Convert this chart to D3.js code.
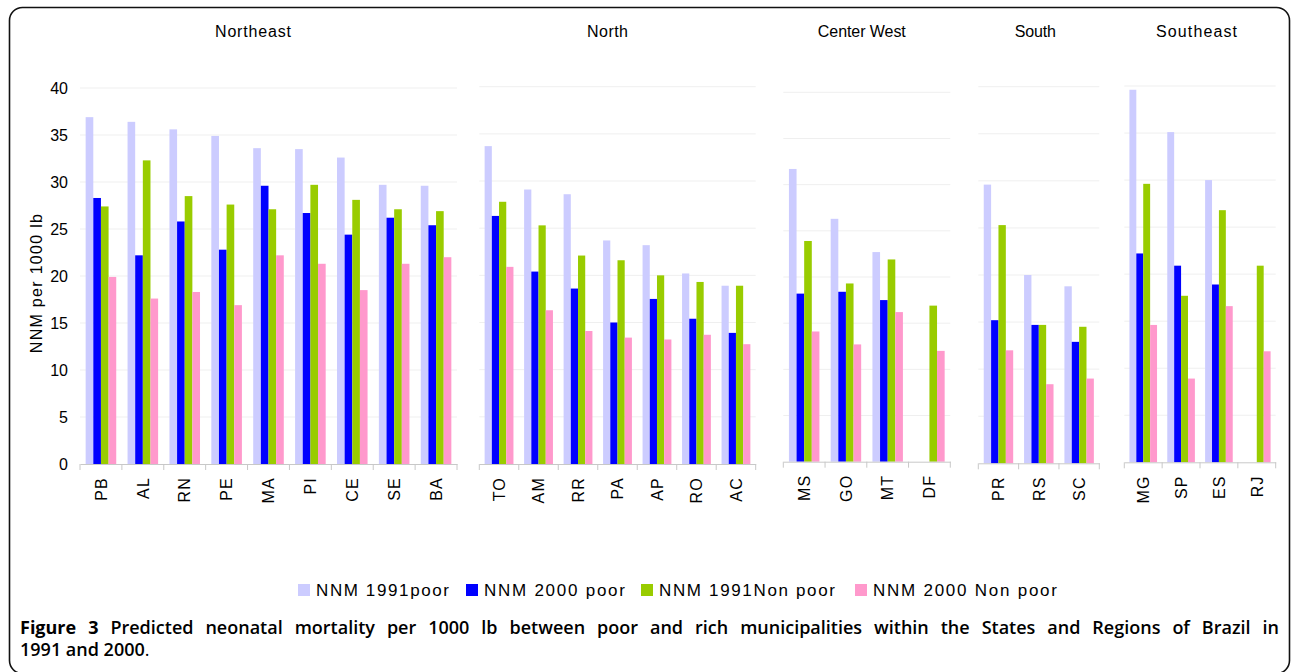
<!DOCTYPE html>
<html>
<head>
<meta charset="utf-8">
<script src="https://cdn.jsdelivr.net/npm/d3@7"></script>
<style>
  html, body { margin: 0; padding: 0; background: #fff; }
  svg { display: block; }
</style>
</head>
<body>
<svg id="chart" width="1292" height="672"></svg>
<script>
// ---------------- DATA ----------------
const regions = ["Northeast", "North", "Center West", "South", "Southeast"];
const northeastStates = ["PB", "AL", "RN", "PE", "MA", "PI", "CE", "SE", "BA"];
const northStates = ["TO", "AM", "RR", "PA", "AP", "RO", "AC"];
const centerWestStates = ["MS", "GO", "MT", "DF"];
const southStates = ["PR", "RS", "SC"];
const southeastStates = ["MG", "SP", "ES", "RJ"];
const seriesNames = ["NNM 1991poor", "NNM 2000 poor", "NNM 1991Non poor", "NNM 2000 Non poor"];

// values in order: Northeast, North, Center West, South, Southeast states
const poor1991 = [36.9, 36.4, 35.6, 34.9, 33.6, 33.5, 32.6, 29.7, 29.6,
                  33.7, 29.1, 28.6, 23.7, 23.2, 20.2, 18.9,
                  31.7, 26.3, 22.7, null,
                  29.6, 20.0, 18.8,
                  39.6, 35.1, 30.0, null];
const poor2000 = [28.3, 22.2, 25.8, 22.8, 29.6, 26.7, 24.4, 26.2, 25.4,
                  26.3, 20.4, 18.6, 15.0, 17.5, 15.4, 13.9,
                  18.2, 18.4, 17.5, null,
                  15.2, 14.7, 12.9,
                  22.2, 20.9, 18.9, null];
const nonPoor1991 = [27.4, 32.3, 28.5, 27.6, 27.1, 29.7, 28.1, 27.1, 26.9,
                     27.8, 25.3, 22.1, 21.6, 20.0, 19.3, 18.9,
                     23.9, 19.3, 21.9, 16.9,
                     25.3, 14.7, 14.5,
                     29.6, 17.7, 26.8, 20.9];
const nonPoor2000 = [19.9, 17.6, 18.3, 16.9, 22.2, 21.3, 18.5, 21.3, 22.0,
                     20.9, 16.3, 14.1, 13.4, 13.2, 13.7, 12.7,
                     14.1, 12.7, 16.2, 12.0,
                     12.0, 8.4, 9.0,
                     14.6, 8.9, 16.6, 11.8];
const yTicks = [0, 5, 10, 15, 20, 25, 30, 35, 40];
const yTitle = "NNM per 1000 lb";
const captionBold = "Figure 3";
const captionLine1 = "Predicted neonatal mortality per 1000 lb between poor and rich municipalities within the States and Regions of Brazil in";
const captionLine2 = "1991 and 2000";

// ---------------- LAYOUT / STYLE ----------------
const colors = ["#CCCCFF", "#0000FF", "#99CC00", "#FF99CC"];
const regionStates = [northeastStates, northStates, centerWestStates, southStates, southeastStates];
const panels = [
  { x0: 80,     x1: 457,    yTop: 88,   yZero: 464,   titleShift: -15.5 },
  { x0: 479.3,  x1: 755.7,  yTop: 86.7, yZero: 464,   titleShift: -10 },
  { x0: 783.3,  x1: 950.3,  yTop: 92.3, yZero: 461.7, titleShift: -5 },
  { x0: 978.3,  x1: 1099.3, yTop: 86.7, yZero: 463.3, titleShift: -3.5 },
  { x0: 1124.3, x1: 1275.7, yTop: 86,   yZero: 462.3, titleShift: -3.5 }
];
const titleLengths = [76, 41, 88, 41, 81];
const chartFont = "'Liberation Sans', Arial, sans-serif";

const svg = d3.select("#chart");

// frame
svg.append("rect")
  .attr("x", 9.5).attr("y", 7.5)
  .attr("width", 1280).attr("height", 666)
  .attr("rx", 13).attr("ry", 13)
  .attr("fill", "#fff").attr("stroke", "#111").attr("stroke-width", 1.6);

const allSeries = [poor1991, poor2000, nonPoor1991, nonPoor2000];
let offset = 0;

regions.forEach((region, ri) => {
  const p = panels[ri];
  const cats = regionStates[ri];
  const start = offset;
  offset += cats.length;

  const x = d3.scaleBand().domain(cats).range([p.x0, p.x1]).padding(0);
  const bw = x.bandwidth();
  const xs = d3.scaleBand().domain(d3.range(4)).range([bw * 0.135, bw * 0.865]).padding(0);
  const y = d3.scaleLinear().domain([0, 40]).range([p.yZero, p.yTop]);

  const g = svg.append("g");

  // gridlines
  g.selectAll("line.grid").data(yTicks.filter(t => t > 0)).join("line")
    .attr("x1", p.x0).attr("x2", p.x1)
    .attr("y1", d => y(d)).attr("y2", d => y(d))
    .attr("stroke", "#efefef").attr("stroke-width", 1);

  // bars
  cats.forEach((c, ci) => {
    const idx = start + ci;
    allSeries.forEach((arr, si) => {
      const v = arr[idx];
      if (v == null) return;
      g.append("rect")
        .attr("x", x(c) + xs(si))
        .attr("y", y(v))
        .attr("width", xs.bandwidth())
        .attr("height", y(0) - y(v))
        .attr("fill", colors[si]);
    });
  });

  // x axis
  const axis = d3.axisBottom(x).tickSize(0).tickFormat("");
  const ag = g.append("g").attr("transform", `translate(0,${y(0)})`).call(axis);
  ag.select(".domain").attr("stroke", "#c8c8c8").attr("stroke-width", 1);
  // boundary ticks
  const bounds = cats.map(c => x(c)).concat([p.x1]);
  g.selectAll("line.bt").data(bounds).join("line")
    .attr("x1", d => d).attr("x2", d => d)
    .attr("y1", y(0)).attr("y2", y(0) + 6)
    .attr("stroke", "#c8c8c8").attr("stroke-width", 1);

  // x labels (rotated)
  g.selectAll("text.xl").data(cats).join("text")
    .attr("transform", d => `translate(${x(d) + bw / 2},${y(0) + 13}) rotate(-90)`)
    .attr("text-anchor", "end")
    .attr("dy", "0.36em")
    .attr("font-family", chartFont)
    .attr("font-size", 16)
    .attr("letter-spacing", 1.2)
    .attr("fill", "#000")
    .text(d => d);

  // region title
  g.append("text")
    .attr("x", (p.x0 + p.x1) / 2 + p.titleShift)
    .attr("y", 37)
    .attr("text-anchor", "middle")
    .attr("font-family", chartFont)
    .attr("font-size", 16)
    .attr("textLength", titleLengths[ri])
    .attr("lengthAdjust", "spacing")
    .attr("fill", "#000")
    .text(region);

  // y axis only on first panel
  if (ri === 0) {
    const yAxis = d3.axisLeft(y).tickValues(yTicks).tickSize(0).tickPadding(12);
    const yg = g.append("g").attr("transform", `translate(${p.x0},0)`).call(yAxis);
    yg.select(".domain").remove();
    yg.selectAll("text")
      .attr("font-family", chartFont)
      .attr("font-size", 16)
      .attr("fill", "#000");
    g.append("text")
      .attr("transform", `translate(36,${(p.yTop + p.yZero) / 2 + 7}) rotate(-90)`)
      .attr("text-anchor", "middle")
      .attr("dy", "0.36em")
      .attr("font-family", chartFont)
      .attr("font-size", 16)
      .attr("letter-spacing", 1.3)
      .attr("fill", "#000")
      .text(yTitle);
  }
});

// legend
const legendX = [298, 466, 641, 855];
const legendLen = [133, 141, 176, 184];
const lg = svg.append("g");
seriesNames.forEach((name, i) => {
  lg.append("rect")
    .attr("x", legendX[i]).attr("y", 584)
    .attr("width", 12).attr("height", 12)
    .attr("fill", colors[i]);
  lg.append("text")
    .attr("x", legendX[i] + 18).attr("y", 596)
    .attr("font-family", chartFont)
    .attr("font-size", 17)
    .attr("textLength", legendLen[i])
    .attr("lengthAdjust", "spacing")
    .attr("fill", "#000")
    .text(name);
});

// caption (justified first line via word spacing)
const cap = svg.append("g").attr("font-family", "'Open Sans', sans-serif").attr("font-size", 18).attr("fill", "#000");
const t1 = cap.append("text").attr("x", 20).attr("y", 634);
t1.append("tspan").attr("font-weight", 700).text(captionBold + " ");
t1.append("tspan").attr("font-weight", 600).text(captionLine1);
const natural = t1.node().getComputedTextLength();
const spaces = (captionBold + " " + captionLine1).split(" ").length - 1;
const extra = (1259 - natural) / spaces;
t1.attr("word-spacing", extra);
const t2 = cap.append("text").attr("x", 20).attr("y", 656);
t2.append("tspan").attr("font-weight", 600).text(captionLine2);
t2.append("tspan").attr("font-weight", 400).text(".");
</script>
</body>
</html>
